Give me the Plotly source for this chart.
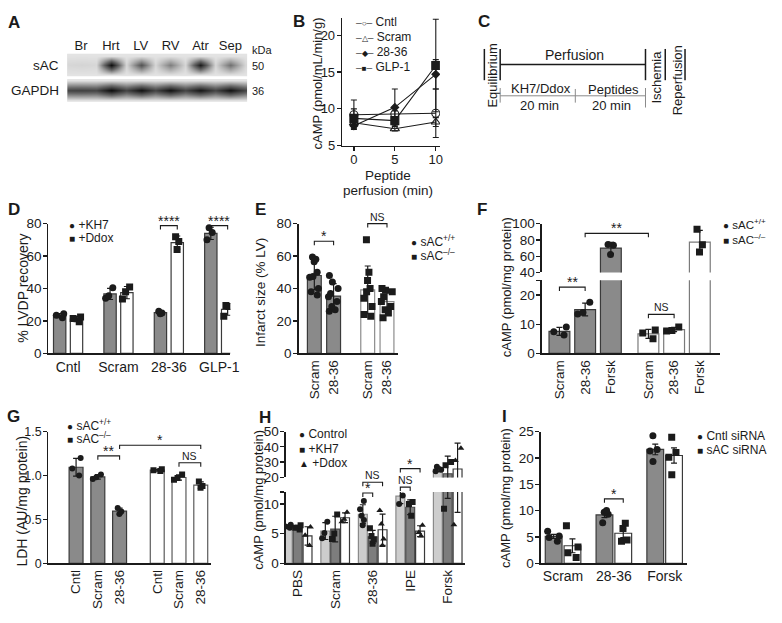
import numpy as np
import plotly.graph_objects as go

W, H = 782, 623
FONT = "Liberation Sans, Arial, Helvetica, sans-serif"
INK = "#1b1b1b"
DARK_BAR = "#8a8a8a"
LIGHT_BAR = "#cdcdcd"
MID_BAR = "#7d7d7d"

# ---- A: western blot, band darkness per lane (0 = blank membrane, 1 = saturated)
blot_lanes = ["Br", "Hrt", "LV", "RV", "Atr", "Sep"]
sac_band = [0.06, 1.0, 0.62, 0.42, 0.93, 0.48]
gapdh_band = [0.72, 1.0, 0.97, 0.97, 0.95, 0.97]

# ---- B: cAMP during peptide perfusion
b_time = [0, 5, 10]
b_cntl = [9.2, 9.3, 9.4]
b_cntl_err = [2.0, 0.4, 3.3]
b_scram = [8.1, 7.3, 8.2]
b_scram_err = [0.5, 0.3, 0.6]
b_2836 = [7.7, 10.2, 14.7]
b_2836_err = [0.4, 2.5, 2.0]
b_glp1 = [8.7, 8.4, 15.9]
b_glp1_err = [1.3, 0.5, 6.3]

# ---- D: % LVDP recovery
d_groups = ["Cntl", "Scram", "28-36", "GLP-1"]
d_kh7 = [[24.5, 22.0, 23.5], [40.5, 35.5, 34.0], [26.0, 24.5, 25.0], [77.5, 74.5, 70.0]]
d_ddox = [[22.5, 19.5, 21.5], [41.0, 38.0, 33.5], [72.0, 69.0, 64.0], [29.5, 29.0, 23.0]]

# ---- E: infarct size
e_labels = ["Scram", "28-36"]
e_wt = [[59.5, 58, 56.5, 50, 47.5, 47, 40, 38, 36], [48, 44, 40, 37, 35, 32, 29, 27, 26]]
e_ko = [[70, 50, 45, 40, 38, 34, 29, 24, 23], [40, 39, 38, 35, 32, 29, 27, 25, 22]]

# ---- F: cAMP, sAC+/+ vs sAC-/-
f_labels = ["Scram", "28-36", "Forsk"]
f_wt = [[9.0, 6.3, 7.4], [17.5, 14.0, 13.5], [74.5, 73.5, 62.0]]
f_ko = [[8.0, 7.0, 5.0], [9.0, 7.8, 7.7], [93.0, 74.0, 65.0]]

# ---- G: LDH release
g_labels = ["Cntl", "Scram", "28-36"]
g_wt = [[1.20, 1.08, 1.00], [1.01, 0.98, 0.96], [0.63, 0.59, 0.56]]
g_ko = [[1.07, 1.06, 1.05], [1.01, 0.97, 0.95], [0.93, 0.88, 0.86]]

# ---- H: cAMP with inhibitors
h_groups = ["PBS", "Scram", "28-36", "IPE", "Forsk"]
h_control = [[6.5, 6.2, 6.0], [7.0, 5.1, 4.2], [10.5, 9.1, 8.0, 7.3, 6.4], [12.5, 11.4, 10.0], [27.0, 25.0, 24.0]]
h_kh7 = [[6.4, 6.0, 5.7], [8.2, 5.0, 4.1], [5.9, 4.6, 4.0, 3.3], [10.3, 10.0, 8.0], [30.0, 28.0, 9.2]]
h_ddox = [[6.1, 4.7, 3.0], [8.6, 7.4, 7.0], [8.9, 6.6, 4.1, 3.0], [6.4, 4.6, 5.2], [39.0, 31.0, 6.5]]

# ---- I: siRNA knockdown
i_groups = ["Scram", "28-36", "Forsk"]
i_cntl = [[6.1, 5.2, 4.9, 4.2], [10.0, 9.7, 9.3, 7.7], [24.2, 21.6, 21.3, 19.3]]
i_sac = [[7.1, 3.1, 2.0, 1.1], [7.6, 6.6, 4.4, 4.2], [23.9, 21.0, 20.1, 16.8]]


def px(x):
    return x / W


def py(y):
    return 1 - y / H


def xdom(left, right):
    return [px(left), px(right)]


def ydom(top, bottom):
    return [py(bottom), py(top)]


fig = go.Figure()
annotations, shapes = [], []
layout = dict(
    width=W, height=H, margin=dict(l=0, r=0, t=0, b=0), autosize=False,
    paper_bgcolor="white", plot_bgcolor="white", showlegend=False,
    barmode="overlay", boxmode="overlay",
    font=dict(family=FONT, color=INK, size=14),
)


def axis(**kw):
    base = dict(showline=True, linecolor=INK, linewidth=1.3, ticks="outside", ticklen=4,
                tickwidth=1.3, tickcolor=INK, showgrid=False, zeroline=False,
                tickfont=dict(size=13.5, color=INK), fixedrange=True)
    base.update(kw)
    return base


def yaxis(**kw):
    return axis(ticklabelstandoff=-1, **kw)


def label(x, y, s, size=14, angle=0, xanchor="center", bold=False):
    if bold:
        s = f"<b>{s}</b>"
    annotations.append(dict(x=px(x), y=py(y), xref="paper", yref="paper", text=s, showarrow=False,
                            textangle=angle, xanchor=xanchor, yanchor="middle", font=dict(size=size)))


def line(x0, y0, x1, y1, color=INK, width=1.5):
    shapes.append(dict(type="line", xref="paper", yref="paper", x0=px(x0), y0=py(y0),
                       x1=px(x1), y1=py(y1), line=dict(color=color, width=width)))


def legend(x, y, dy, items, size=12, gsize=10):
    for k, (glyph, name) in enumerate(items):
        label(x, y + k * dy, f'<span style="font-size:{gsize}px">{glyph}</span> {name}',
              size=size, xanchor="left")


def bracket(ax, x0, x1, y, text, drop=4):
    path = f"M{x0},{py(y + drop)} L{x0},{py(y)} L{x1},{py(y)} L{x1},{py(y + drop)}"
    shapes.append(dict(type="path", xref=ax, yref="paper", path=path, line=dict(color=INK, width=1.1)))
    star = "*" in text
    annotations.append(dict(x=(x0 + x1) / 2, y=py(y), xref=ax, yref="paper", text=text,
                            showarrow=False, yanchor="bottom", yshift=-5 if star else -1,
                            font=dict(size=14 if star else 10.5)))


def bars(ax, yaxes, xs, samples, fill, edge, symbol, width, err="sd", msize=7):
    means = [float(np.mean(s)) for s in samples]
    sd = [float(np.std(s, ddof=1)) for s in samples]
    errs = sd if err == "sd" else [v / np.sqrt(len(s)) for v, s in zip(sd, samples)]
    xp = np.repeat(xs, [len(s) for s in samples])
    yp = np.concatenate([np.asarray(s, float) for s in samples])
    for ya in yaxes:
        fig.add_trace(go.Bar(x=xs, y=means, width=width, xaxis=ax, yaxis=ya,
                             marker=dict(color=fill, line=dict(color=edge, width=1.2)),
                             error_y=dict(type="data", array=errs, color=INK, thickness=1.2, width=3)))
        fig.add_trace(go.Box(x=xp, y=yp, xaxis=ax, yaxis=ya, boxpoints="all", jitter=0.85, pointpos=0,
                             width=width, fillcolor="rgba(0,0,0,0)", whiskerwidth=0,
                             line=dict(color="rgba(0,0,0,0)", width=0),
                             marker=dict(symbol=symbol, color=INK, size=msize)))


# ================= A: blot =================
lane_x = np.arange(len(blot_lanes))


def band_grid(intensity, between):
    xs, row = [], []
    for i, v in enumerate(intensity):
        xs += [i - 0.5, i]
        row += [between, v]
    xs.append(len(intensity) - 0.5)
    row.append(between)
    return xs, [[0.0] * len(row), row, [0.0] * len(row)]


blot_scale = [[0, "#e3e3e3"], [0.5, "#6a6a6a"], [1, "#0b0b0b"]]
for ax, ya, vals, between in [("x", "y", sac_band, 0.05), ("x2", "y2", gapdh_band, 0.7)]:
    xs, z = band_grid(vals, between)
    fig.add_trace(go.Heatmap(x=xs, y=[-1, 0, 1], z=z, zmin=0, zmax=1, zsmooth="best",
                             colorscale=blot_scale, showscale=False, xaxis=ax, yaxis=ya, hoverinfo="skip"))
for top, bottom in [(48, 71), (74, 97)]:
    shapes.append(dict(type="rect", xref="paper", yref="paper", x0=px(68), x1=px(250),
                       y0=py(bottom), y1=py(top), fillcolor="#e3e3e3", line=dict(width=0), layer="below"))

layout["xaxis"] = dict(domain=xdom(68, 250), range=[-0.46, 5.56], anchor="y", side="top", showline=False,
                       ticks="", tickvals=lane_x, ticktext=blot_lanes, tickfont=dict(size=13),
                       showgrid=False, zeroline=False, fixedrange=True)
layout["yaxis"] = dict(domain=ydom(48, 71), range=[-1.2, 1.2], anchor="x", visible=False)
layout["xaxis2"] = dict(domain=xdom(68, 250), range=[-0.46, 5.56], anchor="y2", visible=False)
layout["yaxis2"] = dict(domain=ydom(74, 97), range=[-1.15, 1.15], anchor="x2", visible=False)
label(62, 60, "sAC", size=13.5, xanchor="right")
label(62, 86, "GAPDH", size=13.5, xanchor="right")
label(253, 44, "kDa", size=11, xanchor="left")
label(253, 60, "50", size=11, xanchor="left")
label(253, 86, "36", size=11, xanchor="left")

# ================= B: time course =================
series_b = [
    (b_cntl, b_cntl_err, "circle-open", 8),
    (b_scram, b_scram_err, "triangle-up-open", 8),
    (b_2836, b_2836_err, "diamond", 6),
    (b_glp1, b_glp1_err, "square", 8),
]
for vals, errs, sym, size in series_b:
    fig.add_trace(go.Scatter(x=b_time, y=vals, mode="lines+markers", xaxis="x3", yaxis="y3",
                             line=dict(color=INK, width=1.1),
                             marker=dict(symbol=sym, size=size, color=INK, line=dict(color=INK, width=1.1)),
                             error_y=dict(type="data", array=errs, color=INK, thickness=1.1, width=3)))
layout["xaxis3"] = axis(domain=xdom(346, 445), range=[-1.45, 10.5], anchor="y3", tickvals=b_time,
                        tickfont=dict(size=13, color=INK), ticklabelstandoff=-2)
layout["yaxis3"] = yaxis(domain=ydom(11, 142), range=[5, 22.4], anchor="x3", tickvals=[5, 10, 15, 20],
                         tickfont=dict(size=13, color=INK))
label(321, 78, "cAMP (pmol/mL/min/g)", size=13, angle=-90)
label(393, 173, "Peptide", size=13.5)
label(393, 188, "perfusion (min)", size=13.5)
legend(357, 15, 15.5, [("─○─", "Cntl"), ("─△─", "Scram"), ("─◆─", "28-36"), ("─■─", "GLP-1")], gsize=8)

# ================= C: protocol =================
for x in (490, 506, 653, 673, 693):
    line(x, 43, x, 75)
line(506, 59, 653, 59)
line(506, 91, 653, 91, color="#8a8a8a", width=1)
line(506, 83, 506, 98, color="#8a8a8a", width=1)
line(582, 84, 582, 98, color="#8a8a8a", width=1)
line(653, 83, 653, 103, color="#8a8a8a", width=1)
label(581, 49, "Perfusion", size=14)
label(547, 84, "KH7/Ddox", size=13)
label(546, 101, "20 min", size=13)
label(621, 85, "Peptides", size=13)
label(619, 101, "20 min", size=13)
label(498, 70, "Equilibrium", size=13, angle=-90)
label(664, 72, "Ischemia", size=13, angle=-90)
label(685, 75, "Reperfusion", size=13, angle=-90)

# ================= D =================
dg = np.arange(len(d_groups))
bars("x4", ["y4"], dg - 0.167, d_kh7, DARK_BAR, "#3a3a3a", "circle", 0.245)
bars("x4", ["y4"], dg + 0.167, d_ddox, "white", "#3a3a3a", "square", 0.245)
layout["xaxis4"] = axis(domain=xdom(49, 233), range=[-0.39, 3.22], anchor="y4", ticks="",
                        tickvals=dg, ticktext=d_groups, tickfont=dict(size=14, color=INK))
layout["yaxis4"] = yaxis(domain=ydom(222, 355), range=[0, 80], anchor="x4", dtick=20)
label(23, 288, "% LVDP recovery", angle=-90)
legend(68, 223, 14, [("●", "+KH7"), ("■", "+Ddox")])
bracket("x4", 2 - 0.167, 2 + 0.167, 224, "****")
bracket("x4", 3 - 0.167, 3 + 0.167, 224, "****")

# ================= E =================
e_pos_wt = [0, 1]
e_pos_ko = [2.77, 3.77]
bars("x5", ["y5"], e_pos_wt, e_wt, DARK_BAR, "#3a3a3a", "circle", 0.72)
bars("x5", ["y5"], e_pos_ko, e_ko, "white", "#8c8c8c", "square", 0.72)
layout["xaxis5"] = axis(domain=xdom(302, 403), range=[-0.82, 4.36], anchor="y5", ticks="",
                        tickvals=e_pos_wt + e_pos_ko, ticktext=e_labels + e_labels, tickangle=-90)
layout["yaxis5"] = yaxis(domain=ydom(222, 355), range=[0, 80], anchor="x5", dtick=20)
label(264, 292, "Infarct size (% LV)", size=13.5, angle=-90)
legend(414, 240, 14, [("●", "sAC<sup>+/+</sup>"), ("■", "sAC<sup>–/–</sup>")])
bracket("x5", 0, 1, 240, "*")
bracket("x5", 2.77, 3.77, 222, "NS")

# ================= F (broken axis) =================
f_pos_wt = [0, 1, 2]
f_pos_ko = [3.46, 4.46, 5.46]
bars("x6", ["y6", "y7"], f_pos_wt, f_wt, DARK_BAR, "#3a3a3a", "circle", 0.81)
bars("x6", ["y6", "y7"], f_pos_ko, f_ko, "white", "#7a7a7a", "square", 0.81)
layout["xaxis6"] = axis(domain=xdom(548, 728), range=[-0.69, 6.23], anchor="y6", ticks="",
                        tickvals=f_pos_wt + f_pos_ko, ticktext=f_labels + f_labels, tickangle=-90)
layout["yaxis6"] = yaxis(domain=ydom(280, 355), range=[0, 25], anchor="x6",
                         tickvals=[0, 10, 20, 25], ticktext=["0", "10", "20", ""])
layout["yaxis7"] = yaxis(domain=ydom(222, 272), range=[40, 100], anchor="x6", tickvals=[40, 60, 80, 100])
label(512, 287, "cAMP (pmol/mg protein)", size=13, angle=-90)
legend(729, 222, 16, [("●", "sAC<sup>+/+</sup>"), ("■", "sAC<sup>–/–</sup>")], size=11.5)
bracket("x6", 0, 1, 287, "**")
bracket("x6", 1, 3.46, 232, "**")
bracket("x6", 3.46, 4.46, 315, "NS")

# ================= G =================
g_pos_wt = [0, 1, 2]
g_pos_ko = [3.73, 4.73, 5.73]
bars("x8", ["y8"], g_pos_wt, g_wt, DARK_BAR, "#3a3a3a", "circle", 0.64, msize=6)
bars("x8", ["y8"], g_pos_ko, g_ko, "white", "#5a5a5a", "square", 0.64, msize=6)
layout["xaxis8"] = axis(domain=xdom(49, 213), range=[-1.27, 6.18], anchor="y8", ticks="",
                        tickvals=g_pos_wt + g_pos_ko, ticktext=g_labels + g_labels, tickangle=-90)
layout["yaxis8"] = yaxis(domain=ydom(435, 570), range=[0, 1.5], anchor="x8",
                         tickvals=[0, 0.5, 1.0, 1.5], ticktext=["0", "0.5", "1.0", "1.5"],
                         tickfont=dict(size=12.5, color=INK))
label(22, 506, "LDH (AU/mg protein)", angle=-90)
legend(66, 428, 13.5, [("●", "sAC<sup>+/+</sup>"), ("■", "sAC<sup>–/–</sup>")])
bracket("x8", 1, 2, 460, "**")
bracket("x8", 2, 5.73, 449, "*")
bracket("x8", 4.73, 5.73, 467, "NS")

# ================= H (broken axis) =================
hg = np.arange(len(h_groups))
bars("x9", ["y9", "y10"], hg - 0.263, h_control, LIGHT_BAR, "#8a8a8a", "circle", 0.237, msize=6)
bars("x9", ["y9", "y10"], hg, h_kh7, MID_BAR, "#4a4a4a", "square", 0.237, msize=6)
bars("x9", ["y9", "y10"], hg + 0.263, h_ddox, "white", "#3a3a3a", "triangle-up", 0.237, msize=6)
layout["xaxis9"] = axis(domain=xdom(289, 470), range=[-0.32, 4.45], anchor="y9", ticks="",
                        tickvals=hg, ticktext=h_groups, tickangle=-90)
layout["yaxis9"] = yaxis(domain=ydom(497, 570), range=[0, 12], anchor="x9",
                         tickvals=[0, 5, 10, 12], ticktext=["0", "5", "10", ""])
layout["yaxis10"] = yaxis(domain=ydom(435, 482), range=[20, 50], anchor="x9", tickvals=[20, 30, 40, 50])
label(262, 505, "cAMP (pmol/mg protein)", size=13, angle=-90)
legend(300, 438, 14.5, [("●", "Control"), ("■", "+KH7"), ("▲", "+Ddox")])
bracket("x9", 2 - 0.263, 2, 498, "*")
bracket("x9", 2 - 0.263, 2 + 0.263, 487, "NS")
bracket("x9", 3 - 0.263, 3, 492, "NS")
bracket("x9", 3 - 0.263, 3 + 0.263, 473, "*")

# ================= I =================
ig = np.arange(len(i_groups))
bars("x11", ["y11"], ig - 0.185, i_cntl, DARK_BAR, "#3a3a3a", "circle", 0.33, err="sem", msize=7)
bars("x11", ["y11"], ig + 0.185, i_sac, "white", "#3a3a3a", "square", 0.33, err="sem", msize=7)
layout["xaxis11"] = axis(domain=xdom(547, 695), range=[-0.44, 2.44], anchor="y11", ticks="",
                         tickvals=ig, ticktext=i_groups, tickfont=dict(size=14, color=INK))
layout["yaxis11"] = yaxis(domain=ydom(435, 570), range=[0, 25], anchor="x11", dtick=5)
label(512, 503, "cAMP (pmol/mg protein)", size=13, angle=-90)
legend(703, 440, 14, [("●", "Cntl siRNA"), ("■", "sAC siRNA")])
bracket("x11", 1 - 0.185, 1 + 0.185, 504, "*")

# ================= panel letters =================
for letter, x, y in [("A", 14, 16), ("B", 302, 15), ("C", 490, 15), ("D", 14, 208), ("E", 264, 208),
                     ("F", 488, 208), ("G", 14, 420), ("H", 268, 421), ("I", 510, 420)]:
    label(x, y, letter, size=17, bold=True)

layout["annotations"] = annotations
layout["shapes"] = shapes
fig.update_layout(layout)
# pin the figure to the page corner so pixel positions line up with the reference
fig.write_html("out.html", config={"displayModeBar": False, "staticPlot": True},
               post_script="document.body.style.margin='0px';")
